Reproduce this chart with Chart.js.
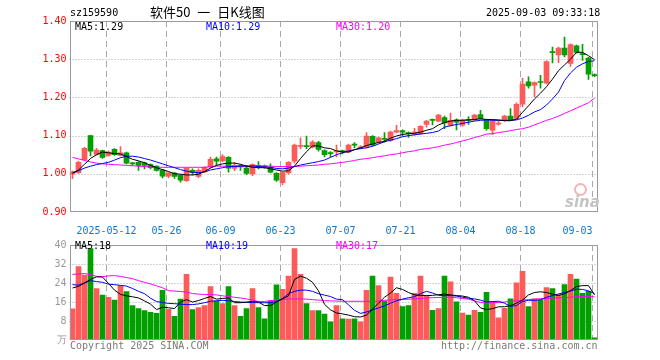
<!DOCTYPE html>
<html>
<head>
<meta charset="utf-8">
<script src="https://cdn.jsdelivr.net/npm/chart.js@4"></script>
<style>
  body { margin: 0; background: #fff; }
  #wrap { position: relative; width: 660px; height: 360px; overflow: hidden;
          font-family: "DejaVu Sans Mono", "Liberation Mono", monospace; font-size: 10px; }
  #wrap canvas { position: absolute; left: 0; }
  .t { position: absolute; white-space: nowrap; line-height: 10px; }
</style>
</head>
<body>
<div id="wrap">
  <canvas id="kline" width="660" height="236" style="top:0"></canvas>
  <canvas id="vol" width="660" height="124" style="top:236px"></canvas>

  <div class="t" style="left:70px;top:8px;color:#000">sz159590</div>
  <div class="t" style="left:150px;top:5px;font:13px 'Noto Sans CJK SC',sans-serif;line-height:14px;word-spacing:4px;color:#000">软件50 一 日K线图</div>
  <div class="t" style="left:486px;top:8px;color:#000">2025-09-03 09:33:18</div>

  <div class="t" style="left:75px;top:22px;color:#000">MA5:1.29</div>
  <div class="t" style="left:206px;top:22px;color:#0000ff">MA10:1.29</div>
  <div class="t" style="left:336px;top:22px;color:#ff00ff">MA30:1.20</div>

  <div class="t" style="left:75px;top:241px;color:#000">MA5:18</div>
  <div class="t" style="left:206px;top:241px;color:#0000ff">MA10:19</div>
  <div class="t" style="left:336px;top:241px;color:#ff00ff">MA30:17</div>

  <div style="position:absolute;left:574px;top:183px;width:9px;height:9px;border:2px solid #f4b4b4;border-radius:50%"></div>
  <div class="t" style="left:565px;top:195px;font:italic bold 15px 'DejaVu Sans',sans-serif;line-height:14px;color:#c4c4c4">sina</div>

  <div class="t" style="left:70px;top:341px;color:#7a7a7a">Copyright 2025 SINA.COM</div>
  <div class="t" style="left:441px;top:341px;color:#7a7a7a">http://finance.sina.com.cn</div>
</div>

<script>
// ── data ─────────────────────────────────────────────────────────
const DATES = [
  '2025-04-29','2025-04-30','2025-05-06','2025-05-07','2025-05-08','2025-05-09',
  '2025-05-12','2025-05-13','2025-05-14','2025-05-15','2025-05-16',
  '2025-05-19','2025-05-20','2025-05-21','2025-05-22','2025-05-23',
  '2025-05-26','2025-05-27','2025-05-28','2025-05-29','2025-05-30',
  '2025-06-03','2025-06-04','2025-06-05','2025-06-06',
  '2025-06-09','2025-06-10','2025-06-11','2025-06-12','2025-06-13',
  '2025-06-16','2025-06-17','2025-06-18','2025-06-19','2025-06-20',
  '2025-06-23','2025-06-24','2025-06-25','2025-06-26','2025-06-27',
  '2025-06-30','2025-07-01','2025-07-02','2025-07-03','2025-07-04',
  '2025-07-07','2025-07-08','2025-07-09','2025-07-10','2025-07-11',
  '2025-07-14','2025-07-15','2025-07-16','2025-07-17','2025-07-18',
  '2025-07-21','2025-07-22','2025-07-23','2025-07-24','2025-07-25',
  '2025-07-28','2025-07-29','2025-07-30','2025-07-31','2025-08-01',
  '2025-08-04','2025-08-05','2025-08-06','2025-08-07','2025-08-08',
  '2025-08-11','2025-08-12','2025-08-13','2025-08-14','2025-08-15',
  '2025-08-18','2025-08-19','2025-08-20','2025-08-21','2025-08-22',
  '2025-08-25','2025-08-26','2025-08-27','2025-08-28','2025-08-29',
  '2025-09-01','2025-09-02','2025-09-03',
];
const TICK_DATES = ['2025-05-12','2025-05-26','2025-06-09','2025-06-23','2025-07-07',
                    '2025-07-21','2025-08-04','2025-08-18','2025-09-03'];
const TICK_TEXT  = ['2025-05-12','05-26','06-09','06-23','07-07','07-21','08-04','08-18','09-03'];

const OPEN = [
  0.999,1.003,1.037,1.100,1.051,1.061,1.048,1.064,1.048,1.055,
  1.027,1.030,1.029,1.024,1.020,1.010,0.994,1.002,0.996,0.982,
  1.009,0.993,1.005,1.018,1.039,1.034,1.043,1.014,1.022,1.015,
  1.000,1.022,1.021,1.017,1.001,0.977,1.003,1.033,1.072,1.072,
  1.070,1.082,1.061,1.055,1.057,1.060,1.057,1.076,1.068,1.070,
  1.098,1.082,1.091,1.087,1.109,1.113,1.106,1.103,1.105,1.129,
  1.141,1.138,1.147,1.127,1.141,1.127,1.141,1.141,1.155,1.141,
  1.114,1.130,1.139,1.151,1.145,1.182,1.241,1.232,1.240,1.237,
  1.320,1.311,1.329,1.289,1.335,1.314,1.303,1.259,
];
const HIGH = [
  1.008,1.033,1.069,1.101,1.067,1.062,1.060,1.066,1.071,1.057,
  1.030,1.032,1.031,1.026,1.021,1.012,1.004,1.004,0.998,1.016,
  1.013,1.013,1.019,1.044,1.044,1.050,1.045,1.030,1.024,1.022,
  1.026,1.032,1.023,1.026,1.003,1.005,1.032,1.078,1.094,1.099,
  1.087,1.085,1.063,1.058,1.075,1.062,1.078,1.082,1.074,1.108,
  1.100,1.096,1.108,1.112,1.127,1.115,1.110,1.119,1.126,1.140,
  1.143,1.156,1.151,1.159,1.144,1.143,1.150,1.156,1.166,1.143,
  1.141,1.139,1.153,1.171,1.186,1.250,1.254,1.241,1.258,1.296,
  1.332,1.332,1.358,1.340,1.337,1.339,1.305,1.262,
];
const LOW = [
  0.987,1.001,1.035,1.047,1.049,1.040,1.046,1.048,1.046,1.026,
  1.022,1.009,1.013,1.013,1.007,0.989,0.989,0.988,0.978,0.980,
  0.997,0.990,1.003,1.016,1.021,1.032,1.004,1.008,1.009,0.998,
  0.995,1.013,1.014,1.002,0.980,0.971,0.999,1.028,1.066,1.066,
  1.068,1.059,1.044,1.044,1.044,1.052,1.055,1.068,1.065,1.068,
  1.073,1.080,1.083,1.085,1.107,1.099,1.095,1.101,1.103,1.122,
  1.128,1.136,1.118,1.125,1.115,1.125,1.129,1.139,1.143,1.114,
  1.103,1.127,1.137,1.139,1.143,1.175,1.224,1.202,1.224,1.235,
  1.290,1.291,1.306,1.281,1.316,1.297,1.247,1.254,
];
const CLOSE = [
  1.005,1.030,1.067,1.059,1.062,1.043,1.057,1.050,1.055,1.028,
  1.026,1.022,1.022,1.016,1.009,0.994,1.002,0.993,0.983,1.014,
  1.003,1.009,1.017,1.038,1.033,1.045,1.015,1.022,1.018,1.001,
  1.024,1.017,1.018,1.004,0.983,1.003,1.030,1.075,1.074,1.071,
  1.083,1.064,1.050,1.053,1.061,1.058,1.075,1.075,1.070,1.099,
  1.075,1.094,1.090,1.109,1.113,1.109,1.105,1.109,1.124,1.138,
  1.140,1.154,1.133,1.140,1.135,1.141,1.140,1.154,1.144,1.118,
  1.138,1.132,1.151,1.142,1.182,1.235,1.230,1.239,1.239,1.294,
  1.317,1.329,1.311,1.338,1.318,1.312,1.261,1.257,
];

const MA5 = [
  1.002,1.010,1.025,1.040,1.050,1.057,1.055,1.053,1.052,1.045,
  1.038,1.034,1.029,1.022,1.016,1.011,1.006,1.000,0.999,0.997,
  0.997,0.999,1.006,1.015,1.022,1.026,1.028,1.028,1.025,1.020,
  1.017,1.016,1.016,1.013,1.010,1.007,1.008,1.020,1.040,1.058,
  1.073,1.073,1.068,1.066,1.060,1.057,1.057,1.063,1.068,1.074,
  1.078,1.082,1.085,1.093,1.099,1.103,1.105,1.106,1.109,1.114,
  1.118,1.128,1.134,1.138,1.140,1.140,1.141,1.142,1.144,1.142,
  1.142,1.141,1.139,1.139,1.143,1.161,1.178,1.196,1.211,1.228,
  1.248,1.270,1.285,1.300,1.318,1.318,1.309,1.299,
];
const MA10 = [
  1.002,1.008,1.015,1.020,1.024,1.027,1.030,1.036,1.042,1.046,
  1.046,1.044,1.040,1.036,1.031,1.026,1.021,1.016,1.011,1.007,
  1.004,1.003,1.005,1.010,1.013,1.016,1.019,1.019,1.020,1.020,
  1.021,1.019,1.018,1.017,1.014,1.013,1.015,1.019,1.023,1.026,
  1.029,1.032,1.036,1.043,1.050,1.055,1.060,1.063,1.066,1.068,
  1.072,1.078,1.084,1.088,1.092,1.097,1.100,1.102,1.104,1.106,
  1.108,1.112,1.122,1.126,1.129,1.132,1.135,1.138,1.140,1.141,
  1.140,1.140,1.140,1.140,1.141,1.146,1.153,1.162,1.168,1.180,
  1.196,1.214,1.244,1.264,1.279,1.288,1.294,1.296,
];
const MA30 = [
  1.043,1.039,1.035,1.031,1.028,1.026,1.025,1.024,1.023,1.022,
  1.021,1.020,1.019,1.018,1.017,1.017,1.017,1.017,1.017,1.017,
  1.017,1.017,1.017,1.019,1.020,1.020,1.020,1.020,1.020,1.020,
  1.020,1.020,1.020,1.020,1.019,1.019,1.019,1.019,1.020,1.021,
  1.022,1.023,1.025,1.026,1.028,1.030,1.032,1.035,1.038,1.040,
  1.042,1.045,1.047,1.050,1.052,1.055,1.058,1.060,1.064,1.066,
  1.068,1.071,1.075,1.078,1.082,1.086,1.090,1.095,1.099,1.104,
  1.105,1.108,1.110,1.113,1.116,1.118,1.122,1.128,1.134,1.140,
  1.145,1.151,1.158,1.165,1.172,1.179,1.186,1.198,
];

const VOLUME = [
  13.1,30.9,27.3,38.5,21.6,18.9,18.0,16.8,22.9,20.4,
  14.5,13.2,12.4,11.7,11.2,20.9,12.9,10.0,17.2,27.7,
  12.8,13.6,14.5,22.5,16.4,15.3,22.5,14.5,10.0,13.2,
  21.6,13.6, 8.9,16.4,23.2,21.3,26.9,38.5,27.6,15.3,
  12.4,12.4,10.9, 7.7,14.5, 8.9, 8.8, 8.9, 7.7,20.9,
  26.9,22.9,16.4,26.5,19.7,14.1,14.5,19.7,26.9,18.5,
  12.5,13.2,26.9,24.5,16.1,11.3,10.5,12.5,11.7,20.1,
  16.1, 9.3,13.3,17.3,24.1,28.9,14.1,17.3,16.9,22.1,
  21.7,19.1,23.3,27.7,25.7,19.7,20.5, 0.9,
];
const VOL_MA5 = [
  21.9,22.6,24.0,25.5,26.6,26.5,23.8,21.0,19.2,18.6,
  18.2,17.7,16.5,15.1,12.8,13.8,13.6,13.2,16.0,17.0,
  16.0,16.6,17.5,18.3,17.2,17.5,17.7,15.7,15.7,16.0,
  16.2,16.0,14.5,14.5,16.0,17.3,18.6,25.5,26.9,26.0,
  24.3,20.7,15.0,12.7,11.4,11.0,10.5, 9.8, 9.7,10.5,
  13.0,15.5,18.0,19.8,22.0,21.3,20.0,19.0,18.8,18.7,
  18.8,19.1,19.3,19.0,18.7,18.5,18.0,16.5,13.5,12.8,
  13.2,14.0,14.0,14.5,15.5,16.8,19.0,20.0,20.3,20.0,
  19.3,18.7,19.5,20.8,22.5,22.9,22.9,19.0,
];
const VOL_MA10 = [
  23.3,23.1,24.0,25.0,24.6,24.3,23.5,23.3,23.0,22.7,
  21.7,20.5,19.5,17.6,16.2,15.8,15.4,15.3,15.1,14.9,
  14.9,15.2,15.7,16.3,16.5,16.7,16.5,16.2,16.0,15.8,
  15.8,15.7,15.7,15.7,16.2,17.5,19.5,20.5,21.0,21.0,
  20.5,19.5,18.9,18.3,17.2,17.0,14.8,12.5,11.2,11.8,
  12.7,13.5,14.4,15.5,16.5,17.2,17.8,18.2,19.5,20.5,
  19.8,18.8,18.7,18.7,18.5,18.0,17.6,17.3,16.8,16.0,
  16.2,16.3,15.5,14.2,14.5,16.2,16.7,16.7,16.9,18.0,
  18.7,19.4,20.0,20.6,21.4,21.3,20.7,19.5,
];
const VOL_MA30 = [
  27.6,27.8,28.0,27.5,26.8,26.7,27.0,27.1,26.8,26.3,
  25.8,25.0,24.3,23.6,22.8,22.0,20.8,20.6,20.4,20.2,
  19.6,19.3,19.2,19.1,19.0,18.6,18.3,18.0,17.7,17.3,
  16.8,16.2,16.2,16.6,16.8,17.0,17.3,17.3,17.3,17.2,
  17.0,16.8,16.6,16.5,16.4,16.3,16.3,16.3,16.3,16.3,
  16.2,16.4,16.7,16.9,17.0,17.1,17.2,17.3,17.5,17.7,
  17.8,17.9,18.0,18.0,17.8,17.5,17.2,16.5,15.8,15.6,
  15.7,15.8,16.0,16.3,16.5,16.8,17.0,17.2,17.4,17.5,
  17.6,17.7,17.8,18.0,18.2,18.3,18.3,18.2,
];

// ── styling ──────────────────────────────────────────────────────
const UP = '#ff5a5a';
const DOWN = '#00a000';
const GRID = '#a8a8a8';
const FRAME = '#9a9a9a';
const MONO = '"DejaVu Sans Mono", "Liberation Mono", monospace';

const candleColor = CLOSE.map((c, i) => (c >= OPEN[i] ? UP : DOWN));

// sina-style grid: dotted price lines, dashed date lines on category edges,
// all positions taken from the chart's own scales
const gridPlugin = {
  id: 'sinaGrid',
  beforeDatasetsDraw(chart) {
    const { ctx, chartArea: a, scales: { x, y } } = chart;
    ctx.save();
    ctx.strokeStyle = GRID;
    ctx.lineWidth = 1;

    ctx.setLineDash([1, 2]);
    for (const t of y.ticks) {
      if (t.value <= y.min + 1e-9 || t.value >= y.max - 1e-9) continue;
      const py = Math.round(y.getPixelForValue(t.value)) + 0.5;
      ctx.beginPath(); ctx.moveTo(a.left, py); ctx.lineTo(a.right, py); ctx.stroke();
    }

    ctx.setLineDash([6, 4]);
    for (const d of TICK_DATES) {
      const i = DATES.indexOf(d);
      if (i < 1) continue;
      const edge = (x.getPixelForValue(i) + x.getPixelForValue(i - 1)) / 2;
      const px = Math.round(edge) + 0.5;
      ctx.beginPath(); ctx.moveTo(px, a.top); ctx.lineTo(px, a.bottom); ctx.stroke();
    }
    ctx.restore();
  },
};

// grey box round the plot area, like the sina frame
const framePlugin = {
  id: 'frame',
  afterDatasetsDraw(chart) {
    const { ctx, chartArea: a } = chart;
    const l = Math.round(a.left) + 0.5, r = Math.round(a.right) - 0.5;
    const t = Math.round(a.top) + 0.5, b = Math.round(a.bottom) - 0.5;
    ctx.save();
    ctx.strokeStyle = FRAME;
    ctx.lineWidth = 1;
    ctx.setLineDash([]);
    ctx.strokeRect(l, t, r - l, b - t);
    ctx.restore();
  },
};

function xScale(showLabels) {
  return {
    offset: true,
    ticks: {
      display: showLabels,
      autoSkip: false,
      maxRotation: 0,
      minRotation: 0,
      align: 'inner',
      labelOffset: -2,
      padding: 5,
      color: '#0a78d2',
      font: { family: MONO, size: 10 },
      callback(v, i) {
        const k = TICK_DATES.indexOf(DATES[i]);
        return k >= 0 ? TICK_TEXT[k] : '';
      },
    },
    grid: { display: false },
    border: { display: false },
    afterFit(s) { s.height = showLabels ? 24 : 0; },
  };
}

function maLine(data, color) {
  return {
    type: 'line', data,
    borderColor: color, borderWidth: 1,
    pointRadius: 0, fill: false, tension: 0, order: 0,
  };
}

const common = {
  responsive: false,
  animation: false,
  events: [],
  plugins: { legend: { display: false }, tooltip: { enabled: false } },
};

// ── K-line panel ─────────────────────────────────────────────────
new Chart(document.getElementById('kline'), {
  type: 'bar',
  plugins: [gridPlugin, framePlugin],
  data: {
    labels: DATES,
    datasets: [
      maLine(MA5, '#000000'),
      maLine(MA10, '#0000ff'),
      maLine(MA30, '#ff00ff'),
      {
        label: 'body',
        data: OPEN.map((o, i) => [o, CLOSE[i]]),
        backgroundColor: candleColor,
        barThickness: 5,
        minBarLength: 1,
        grouped: false,
        order: 1,
      },
      {
        label: 'wick',
        data: LOW.map((l, i) => [l, HIGH[i]]),
        backgroundColor: candleColor,
        barThickness: 1,
        grouped: false,
        order: 2,
      },
    ],
  },
  options: {
    ...common,
    layout: { padding: { left: 0, right: 62.5, top: 21, bottom: 0 } },
    scales: {
      x: xScale(true),
      y: {
        min: 0.9, max: 1.4,
        ticks: {
          stepSize: 0.1, padding: 3, color: '#ff0000',
          font: { family: MONO, size: 10 },
          callback: v => Number(v).toFixed(2),
        },
        grid: { display: false, drawTicks: false },
        border: { display: false },
        afterFit(s) { s.width = 69.5; },
      },
    },
  },
});

// ── volume panel ─────────────────────────────────────────────────
new Chart(document.getElementById('vol'), {
  type: 'bar',
  plugins: [gridPlugin, framePlugin],
  data: {
    labels: DATES,
    datasets: [
      maLine(VOL_MA5, '#000000'),
      maLine(VOL_MA10, '#0000ff'),
      maLine(VOL_MA30, '#ff00ff'),
      {
        label: 'volume',
        data: VOLUME,
        backgroundColor: candleColor,
        barThickness: 5,
        order: 1,
      },
    ],
  },
  options: {
    ...common,
    layout: { padding: { left: 0, right: 62.5, top: 4.5, bottom: 20 } },
    scales: {
      x: xScale(false),
      y: {
        min: 0, max: 40,
        ticks: {
          stepSize: 8, padding: 3, color: '#999999',
          font: { family: MONO, size: 10 },
          callback: v => (v === 0 ? '万' : v),
        },
        grid: { display: false, drawTicks: false },
        border: { display: false },
        afterFit(s) { s.width = 69.5; },
      },
    },
  },
});
</script>
</body>
</html>
